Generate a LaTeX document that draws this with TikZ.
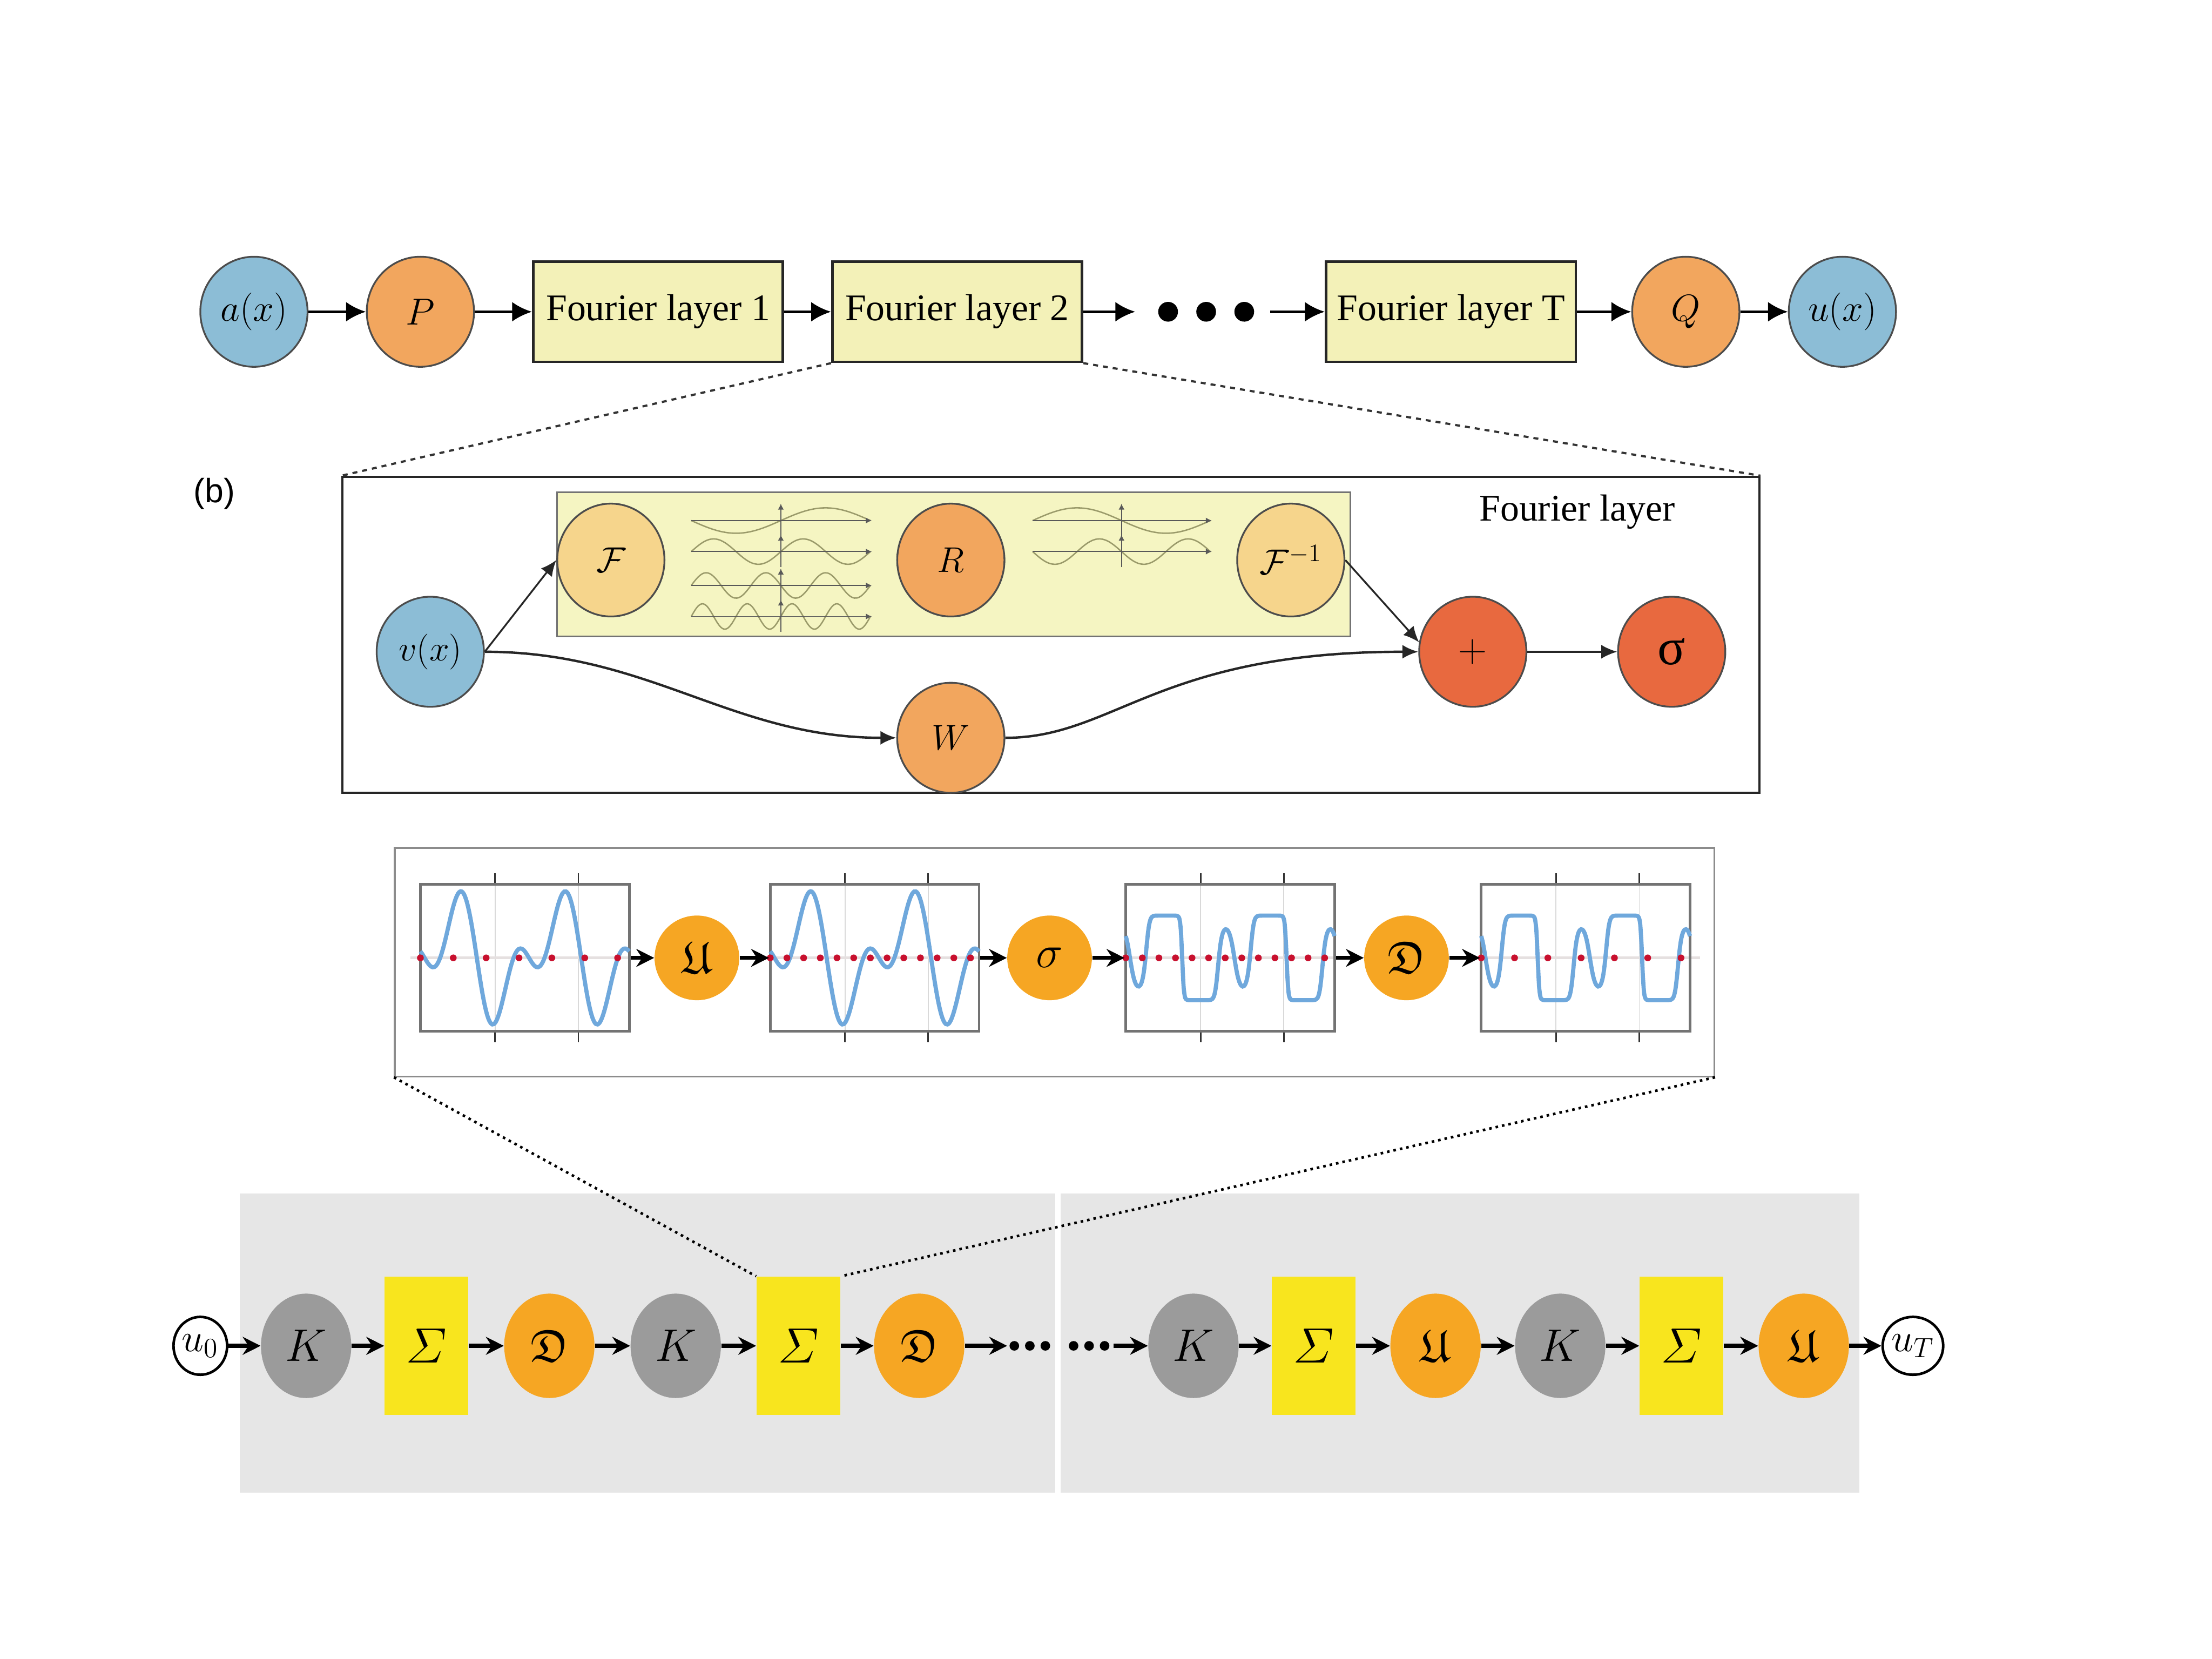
\documentclass[tikz,border=0pt]{standalone}
\usepackage{fix-cm}
\usepackage{amsmath}
\usepackage{amssymb}
\usepackage{fontspec}
\setmainfont{Liberation Serif}
\newfontfamily\sansfont{Liberation Sans}
\usetikzlibrary{shapes.geometric,arrows.meta}

\definecolor{inblue}{HTML}{8CBDD6}
\definecolor{oporange}{HTML}{F2A65E}
\definecolor{ftyellow}{HTML}{F6D58C}
\definecolor{layeryellow}{HTML}{F3F1B8}
\definecolor{specyellow}{HTML}{F5F5C2}
\definecolor{actred}{HTML}{E8693F}
\definecolor{mapgold}{HTML}{F6A623}
\definecolor{sigyellow}{HTML}{F8E51E}
\definecolor{kgray}{HTML}{9B9B9B}
\definecolor{bggray}{HTML}{E6E6E6}
\definecolor{curveblue}{HTML}{6FA8DC}
\definecolor{dotred}{HTML}{C8102E}
\definecolor{waveolive}{HTML}{9A9A6A}

\begin{document}
\begin{tikzpicture}[x=0.025cm,y=-0.025cm,>={Latex[length=10pt,width=10pt]},
	op/.style = {ellipse,draw=black!70,line width=0.9pt,inner sep=0pt,minimum width=1.9cm,minimum height=1.95cm,font=\fontsize{19}{22}\selectfont},
	layerbox/.style = {draw=black!85,line width=1.3pt,fill=layeryellow,minimum width=4.425cm,minimum height=1.775cm,inner sep=0pt,font=\fontsize{19}{22}\selectfont},
	bigdot/.style = {circle,fill,inner sep=0pt,minimum size=0.35cm},
	flow/.style = {->,line width=1.4pt},
	thinflow/.style = {-{Latex[length=8pt,width=7pt]},line width=0.9pt,black!85},
	wave/.style = {waveolive,line width=0.7pt},
	waveaxis/.style = {black!65,line width=0.5pt,-{Latex[length=3pt,width=3pt]}},
	plotbox/.style = {draw=black!55,line width=1.3pt,minimum width=3.7cm,minimum height=2.6cm,inner sep=0pt},
	curve/.style = {curveblue,line width=2.1pt},
	mapc/.style = {circle,fill=mapgold,inner sep=0pt,minimum size=1.5cm,font=\fontsize{23}{26}\selectfont},
	boldflow/.style = {-{Stealth[length=9pt,width=9pt]},line width=2pt},
	kop/.style = {ellipse,fill=kgray,inner sep=0pt,minimum width=1.6cm,minimum height=1.85cm,font=\fontsize{23}{26}\selectfont},
	actop/.style = {ellipse,fill=mapgold,inner sep=0pt,minimum width=1.6cm,minimum height=1.85cm,font=\fontsize{23}{26}\selectfont},
	sigbox/.style = {fill=sigyellow,inner sep=0pt,minimum width=1.485cm,minimum height=2.45cm,font=\fontsize{25}{28}\selectfont},
	state/.style = {ellipse,draw,line width=1.3pt,fill=white,inner sep=0pt,minimum width=0.95cm,minimum height=1.025cm,font=\fontsize{20}{24}\selectfont},
	smalldot/.style = {circle,fill,inner sep=0pt,minimum size=0.17cm}
	]
	\fill[white] (0,0) rectangle (1568,1176);
	\useasboundingbox (0,0) rectangle (1568,1176);
	%RETE FNO
	\node[op,fill=inblue] (ax) at (180,221) {$a(x)$};
	\node[op,fill=oporange] (P) at (298,221) {$P$};
	\node[layerbox] (fl1) at (466.5,221) {Fourier layer 1};
	\node[layerbox] (fl2) at (678.5,221) {Fourier layer 2};
	\node[bigdot] (d1) at (828,221) {};
	\node[bigdot] (d2) at (855,221) {};
	\node[bigdot] (d3) at (882,221) {};
	\node[layerbox] (flT) at (1028.5,221) {Fourier layer T};
	\node[op,fill=oporange] (Q) at (1195,221) {$Q$};
	\node[op,fill=inblue] (ux) at (1306,221) {$u(x)$};
	\draw[flow] (ax) -- (P);
	\draw[flow] (P) -- (fl1);
	\draw[flow] (fl1) -- (fl2);
	\draw[flow,shorten >=0.4cm] (fl2) -- (d1);
	\draw[flow,shorten <=0.28cm] (d3) -- (flT);
	\draw[flow] (flT) -- (Q);
	\draw[flow] (Q) -- (ux);
	%FOURIER LAYER
	\node[draw=black!85,line width=1.1pt,minimum width=25.1cm,minimum height=5.6cm] (flayer) at (745,450) {};
	\draw[black!80,line width=1.1pt,dash pattern=on 2.5pt off 2.5pt] (fl2.south west) -- (flayer.north west);
	\draw[black!80,line width=1.1pt,dash pattern=on 2.5pt off 2.5pt] (fl2.south east) -- (flayer.north east);
	\node[font=\sansfont\fontsize{17}{20}\selectfont] (blabel) at (152,350) {(b)};
	\node[font=\fontsize{19}{22}\selectfont] (fltitle) at (1118,363) {Fourier layer};
	\node[draw=black!55,line width=0.8pt,fill=specyellow,minimum width=14.05cm,minimum height=2.55cm] (spec) at (676,400) {};
	%onde
	\foreach \k/\row/\s in {1/369/1,2/391/-1,3/415/-1,4/437/-1} {
		\draw[wave] plot[domain=0:127,samples=80,smooth] ({490+\x},{\row+\s*9*sin(2.8346*\k*\x)});
		\draw[waveaxis] (490,\row) -- (618,\row);
		\draw[waveaxis] (553.5,{\row+11}) -- (553.5,{\row-12});
	}
	\foreach \k/\row/\s in {1/369/-1,2/391/1} {
		\draw[wave] plot[domain=0:126,samples=80,smooth] ({732+\x},{\row+\s*9*sin(2.8571*\k*\x)});
		\draw[waveaxis] (732,\row) -- (859,\row);
		\draw[waveaxis] (795,{\row+11}) -- (795,{\row-12});
	}
	\node[op,fill=ftyellow,minimum height=2cm,font=\fontsize{18}{22}\selectfont] (F) at (433,397) {$\mathcal{F}$};
	\node[op,fill=oporange,minimum height=2cm,font=\fontsize{18}{22}\selectfont] (R) at (674,397) {$R$};
	\node[op,fill=ftyellow,minimum height=2cm,font=\fontsize{18}{22}\selectfont] (Fi) at (915,397) {$\mathcal{F}^{-1}$};
	\node[op,fill=inblue,font=\fontsize{18}{22}\selectfont] (v) at (305,462) {$v(x)$};
	\node[op,fill=oporange,font=\fontsize{18}{22}\selectfont] (W) at (674,523) {$W$};
	\node[op,fill=actred,font=\fontsize{20}{24}\selectfont] (plus) at (1044,462) {$+$};
	\node[op,fill=actred,font=\fontsize{26}{30}\selectfont] (sig) at (1185,462) {σ};
	\draw[thinflow] (v.east) -- (F.west);
	\draw[thinflow,line width=1.2pt] (v.east) to[out=0,in=180] (W.west);
	\draw[thinflow,line width=1.2pt] (W.east) .. controls (790,523) and (820,462) .. (plus.west);
	\draw[thinflow] (Fi.east) -- (plus.170);
	\draw[thinflow] (plus) -- (sig);
	%PROCESSO SUI CAMPIONI
	\node[draw=black!45,line width=0.9pt,minimum width=23.375cm,minimum height=4.05cm] (proc) at (747.5,682) {};
	\foreach \px in {298,546,798,1050} {
		\foreach \gx in {53,112} {
			\draw[black!15,line width=0.5pt] ({\px+\gx},627) -- ({\px+\gx},731);
			\draw[black!80,line width=0.8pt] ({\px+\gx},619) -- ({\px+\gx},627);
			\draw[black!80,line width=0.8pt] ({\px+\gx},731) -- ({\px+\gx},739);
		}
		\draw[red!15!black!12,line width=1.4pt] ({\px-7},679) -- ({\px+155},679);
	}
	\node[plotbox] (p1) at (372,679) {};
	\node[plotbox] (p2) at (620,679) {};
	\node[plotbox] (p3) at (872,679) {};
	\node[plotbox] (p4) at (1124,679) {};
	\draw[curve] plot[domain=0:148,samples=120,smooth] ({298+\x},{679+29.35*sin(4.8649*(\x-40))+24.64*sin(9.7297*(\x-40))});
	\draw[curve] plot[domain=0:148,samples=120,smooth] ({546+\x},{679+29.35*sin(4.8649*(\x-40))+24.64*sin(9.7297*(\x-40))});
	\draw[curve] plot[domain=0:148,samples=160,smooth] ({798+\x},{679+30*tanh(3.7*(29.35*sin(4.8649*(\x-40))+24.64*sin(9.7297*(\x-40)))/30)});
	\draw[curve] plot[domain=0:148,samples=160,smooth] ({1050+\x},{679+30*tanh(3.7*(29.35*sin(4.8649*(\x-40))+24.64*sin(9.7297*(\x-40)))/30)});
	%campioni
	\foreach \i in {0,...,6} \fill[dotred] ({298+23.3*\i},679) circle (0.06cm);
	\foreach \i in {0,...,12} \fill[dotred] ({546+11.83*\i},679) circle (0.06cm);
	\foreach \i in {0,...,12} \fill[dotred] ({798+11.75*\i},679) circle (0.06cm);
	\foreach \i in {0,...,6} \fill[dotred] ({1050+23.6*\i},679) circle (0.06cm);
	\node[mapc] (Uc) at (494,679) {$\mathfrak{U}$};
	\node[mapc] (sigc) at (744,679) {$\sigma$};
	\node[mapc] (Dc) at (997,679) {$\mathfrak{D}$};
	\draw[boldflow] (p1) -- (Uc);
	\draw[boldflow] (Uc) -- (p2);
	\draw[boldflow] (p2) -- (sigc);
	\draw[boldflow] (sigc) -- (p3);
	\draw[boldflow] (p3) -- (Dc);
	\draw[boldflow] (Dc) -- (p4);
	%CATENA DEGLI OPERATORI
	\fill[bggray] (170,846) rectangle (748,1058);
	\fill[bggray] (752,846) rectangle (1318,1058);
	\node[state] (u0) at (142,954) {$u_0$};
	\node[kop] (K1) at (217,954) {$K$};
	\node[sigbox] (S1) at (302.3,954) {$\varSigma$};
	\node[actop] (D1) at (389.4,954) {$\mathfrak{D}$};
	\node[kop] (K2) at (479,954) {$K$};
	\node[sigbox] (S2) at (566,954) {$\varSigma$};
	\node[actop] (D2) at (651.6,954) {$\mathfrak{D}$};
	\node[smalldot] (e1) at (719,954) {};
	\node[smalldot] (e2) at (730,954) {};
	\node[smalldot] (e3) at (741,954) {};
	\node[smalldot] (e4) at (761,954) {};
	\node[smalldot] (e5) at (772,954) {};
	\node[smalldot] (e6) at (783,954) {};
	\node[kop] (K3) at (846,954) {$K$};
	\node[sigbox] (S3) at (931.3,954) {$\varSigma$};
	\node[actop] (U3) at (1017.6,954) {$\mathfrak{U}$};
	\node[kop] (K4) at (1106,954) {$K$};
	\node[sigbox] (S4) at (1192,954) {$\varSigma$};
	\node[actop] (U4) at (1278.6,954) {$\mathfrak{U}$};
	\node[state] (uT) at (1356,954) {$u_T$};
	\draw[boldflow] (u0) -- (K1);
	\draw[boldflow] (K1) -- (S1);
	\draw[boldflow] (S1) -- (D1);
	\draw[boldflow] (D1) -- (K2);
	\draw[boldflow] (K2) -- (S2);
	\draw[boldflow] (S2) -- (D2);
	\draw[boldflow,shorten >=1pt] (D2) -- (e1);
	\draw[boldflow,shorten <=2pt] (e6) -- (K3);
	\draw[boldflow] (K3) -- (S3);
	\draw[boldflow] (S3) -- (U3);
	\draw[boldflow] (U3) -- (K4);
	\draw[boldflow] (K4) -- (S4);
	\draw[boldflow] (S4) -- (U4);
	\draw[boldflow] (U4) -- (uT);
	%zoom
	\draw[dotted,line width=1.3pt] (proc.south west) -- (S2.north west);
	\draw[dotted,line width=1.3pt] (proc.south east) -- (S2.north east);
\end{tikzpicture}
\end{document}
